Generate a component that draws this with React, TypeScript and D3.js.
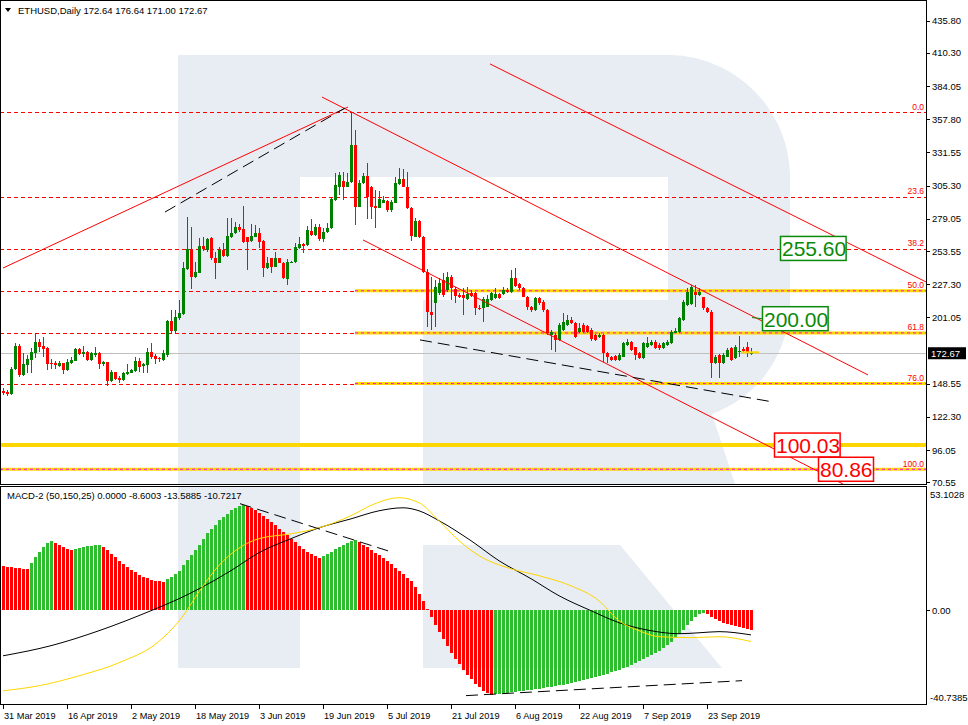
import React from "react";
import * as d3 from "d3";

const START = Date.UTC(2019, 2, 31);
const DAY = 86400000;

const openP = [
  142.8,142.3,140.4,160.0,178.7,155.5,163.4,167.3,172.9,181.3,
  178.7,176.8,165.2,164.7,162.9,165.0,159.4,164.7,166.8,176.0,
  172.1,173.7,167.3,171.6,173.1,164.2,165.5,150.7,157.6,153.4,
  151.5,156.3,157.3,158.6,166.6,162.6,163.1,173.7,170.5,169.2,
  167.3,171.3,198.2,190.0,200.2,203.7,239.0,255.1,233.2,236.4,
  257.5,254.3,263.6,248.3,244.3,254.3,249.6,264.4,267.5,272.8,
  270.7,264.4,261.7,264.9,267.5,261.5,239.8,247.7,241.1,247.7,
  244.3,231.4,244.3,244.6,255.6,259.1,258.3,269.4,266.2,272.8,
  262.8,268.8,271.5,293.9,304.5,309.2,304.5,308.4,337.4,288.6,
  307.1,312.9,303.9,289.2,287.8,291.8,293.1,286.0,291.8,306.3,
  310.5,304.5,287.3,264.9,277.5,264.9,237.3,205.0,212.2,220.1,
  230.7,222.8,233.3,223.3,218.8,218.8,215.4,220.6,220.1,208.8,
  208.2,209.6,214.8,216.2,219.3,219.3,222.8,221.4,232.0,227.2,
  224.1,217.5,209.6,206.9,216.2,213.5,206.9,187.1,187.1,183.2,
  191.1,195.1,199.0,196.9,189.8,195.1,194.3,191.1,187.1,185.3,
  187.1,172.6,170.0,170.5,167.4,170.0,179.2,181.9,177.4,173.2,
  168.7,177.4,179.2,181.9,179.2,176.6,179.2,180.5,189.0,189.8,
  199.0,210.9,211.7,221.4,218.8,217.0,208.2,205.6,164.7,171.3,
  164.7,170.0,176.6,168.7,173.7,175.8,177.4,172.64,
];
const highP = [
  144.9,143.6,162.1,180.5,179.7,172.6,171.3,176.6,187.9,184.0,
  185.3,177.9,167.9,166.8,166.3,165.2,167.9,169.5,176.8,176.6,
  178.4,174.5,173.9,177.4,173.7,166.8,166.0,159.4,158.1,154.7,
  158.1,163.9,160.2,169.5,168.7,164.7,176.6,180.5,171.8,170.0,
  175.3,199.0,206.8,206.8,214.8,245.1,280.2,272.5,245.1,263.6,
  264.4,264.1,264.4,253.0,257.0,259.6,279.4,279.4,276.8,274.9,
  289.2,265.0,274.6,274.1,272.0,262.2,249.1,248.3,253.0,248.3,
  245.1,246.9,245.9,259.6,264.4,259.6,273.6,278.6,274.6,274.6,
  271.5,275.4,296.0,315.0,316.3,316.3,315.0,363.3,349.3,309.7,
  315.0,322.9,305.0,301.8,301.0,297.1,293.9,293.9,312.4,319.0,
  318.2,316.3,288.1,279.4,278.1,265.4,239.1,233.3,230.7,232.0,
  236.0,237.3,234.6,225.4,220.1,224.1,225.4,222.8,221.4,210.9,
  217.5,218.8,221.4,224.1,220.1,225.4,224.1,238.6,239.9,228.0,
  225.4,218.0,210.1,217.0,217.0,214.8,207.5,191.1,188.5,196.4,
  204.3,203.0,201.7,197.7,196.4,196.4,195.1,192.4,187.9,188.5,
  187.9,174.0,170.5,171.3,173.2,181.9,183.7,182.7,177.9,174.0,
  181.9,185.8,183.2,183.2,180.5,181.9,183.2,191.1,192.4,201.7,
  214.8,224.1,226.7,226.7,224.1,217.5,209.6,206.9,171.3,172.1,
  172.6,176.6,177.4,179.2,186.4,177.4,181.9,176.64,
];
const lowP = [
  139.6,138.9,139.6,159.4,153.6,154.7,157.3,157.3,168.7,173.9,
  170.0,159.4,160.0,160.5,162.1,156.0,158.9,163.9,166.3,171.6,
  170.0,166.8,166.8,170.0,160.5,162.9,147.0,150.2,151.5,148.9,
  150.7,155.5,156.8,158.1,157.6,157.3,157.3,168.1,163.9,166.0,
  166.8,170.0,188.4,188.0,198.9,202.9,238.5,223.2,232.4,235.9,
  253.8,253.0,246.4,231.1,243.8,248.5,249.1,263.6,267.0,268.8,
  260.1,238.5,260.9,264.4,255.6,233.2,239.0,235.9,240.6,243.8,
  231.1,226.6,243.8,243.8,254.9,251.7,257.5,265.4,265.4,261.7,
  260.9,268.1,270.7,293.4,297.9,293.9,303.9,307.1,274.1,288.1,
  306.6,278.6,278.6,271.5,287.3,291.3,284.7,284.7,291.3,305.8,
  303.9,286.5,261.5,264.4,263.6,235.9,193.7,191.1,193.7,218.8,
  217.5,221.4,214.8,212.2,216.2,203.0,214.8,217.0,203.0,206.9,
  197.7,209.0,214.3,215.4,215.4,218.8,220.6,220.6,225.4,222.8,
  217.0,206.9,205.6,206.4,210.9,205.6,187.1,175.3,174.0,182.7,
  190.6,194.5,195.9,184.5,189.0,189.0,188.5,182.7,182.7,184.5,
  166.0,164.7,166.8,166.8,166.8,169.5,178.4,174.7,167.4,167.9,
  167.9,176.6,178.4,175.8,175.3,175.8,178.4,180.0,188.5,189.0,
  198.5,210.1,210.9,209.6,218.0,206.9,204.3,152.9,164.2,152.9,
  164.2,169.5,166.8,167.9,170.0,173.2,170.0,171.0,
];
const closeP = [
  141.0,140.4,160.0,178.4,155.5,164.2,168.1,173.7,181.3,177.9,
  176.3,164.2,163.9,163.1,165.2,159.4,166.0,167.3,176.3,172.1,
  173.9,167.3,172.6,172.9,164.2,166.0,150.7,158.1,152.3,151.5,
  157.3,157.8,159.4,166.6,162.1,164.2,173.7,170.0,168.1,167.9,
  172.6,198.2,190.0,201.6,204.7,240.3,255.1,233.2,236.7,257.5,
  254.9,263.0,247.7,244.3,254.3,249.6,265.4,268.1,272.8,270.2,
  260.9,260.9,265.4,267.5,260.9,239.8,244.3,241.1,248.3,244.3,
  231.9,245.1,244.8,256.4,259.1,257.8,270.2,266.2,272.8,262.8,
  268.8,272.0,294.4,305.8,313.7,304.5,308.4,337.4,288.6,307.1,
  312.9,296.5,288.6,287.8,294.4,293.9,286.0,292.6,307.1,310.5,
  304.5,287.3,265.4,277.5,264.4,237.2,205.0,203.0,225.4,228.0,
  218.8,233.3,224.1,218.0,217.5,216.2,219.3,218.0,208.2,207.5,
  215.4,215.4,220.1,219.3,216.2,222.8,221.4,232.0,225.9,224.1,
  217.5,209.6,206.9,216.2,212.2,206.9,188.5,189.8,183.2,195.1,
  197.7,199.0,196.4,185.8,192.4,189.8,189.8,183.7,183.2,187.1,
  172.6,170.0,167.4,167.4,171.3,180.5,181.9,175.3,171.3,168.7,
  180.5,180.5,181.9,176.6,176.6,180.5,181.9,189.8,190.6,200.3,
  213.5,221.4,225.4,218.8,221.4,208.2,205.6,164.7,170.0,164.7,
  171.3,175.3,167.4,177.4,174.2,174.7,172.6,172.67,
];

const macdHist = [
  19.2,18.9,18.6,18.4,18.2,18.0,17.9,
  20.5,23.0,25.5,27.5,29.0,30.0,
  29.3,28.5,27.6,26.8,26.0,
  26.5,27.0,27.5,27.8,28.0,28.2,28.3,
  27.5,26.0,24.5,23.0,21.5,20.0,18.7,17.5,16.5,15.5,14.5,13.8,13.2,
  12.8,12.5,12.3,
  13.5,14.5,15.8,17.0,19.5,22.0,24.0,26.0,28.5,31.0,33.5,35.5,37.0,39.0,40.5,42.0,43.5,44.5,45.3,45.8,
  45.2,44.5,43.5,42.2,41.0,39.5,38.2,37.0,35.5,34.0,32.5,31.0,29.5,28.0,26.5,25.5,24.5,23.5,22.8,
  23.5,24.5,25.5,26.5,27.5,28.5,29.3,30.0,30.5,
  29.5,28.5,27.5,26.2,25.0,23.8,22.5,21.3,20.0,18.5,17.2,15.8,14.2,12.5,10.0,7.0,4.0,
  0.5,-3.0,-6.5,-9.5,-12.5,-15.5,-18.5,-21.0,-23.5,-26.0,-28.0,-30.0,-32.0,-33.5,-35.0,-36.0,-36.8,
  -36.5,-36.3,-36.1,-35.9,-35.7,-35.4,-35.2,-35.0,-34.8,-34.6,-34.4,-34.1,-33.8,-33.5,-33.2,-32.9,-32.6,-32.3,-32.0,
  -31.6,-31.2,-30.8,-30.4,-30.0,-29.5,-29.0,-28.5,-28.0,-27.5,-27.0,-26.4,-25.8,-25.2,-24.5,-23.8,-23.0,-22.2,-21.4,-20.5,
  -19.5,-18.5,-17.5,-16.3,-15.0,-13.6,-12.0,-10.3,-8.5,-6.5,-4.5,-3.0,-1.8,-1.0,
  -1.5,-3.0,-4.0,-4.8,-5.5,-6.0,-6.5,-7.0,-7.4,-7.8,-8.2,-8.6003,
];

// [day index, value]
const macdMain = [
  [0,-19.8],[12,-15.4],[24,-8.9],[37,-0.2],[44,5.0],[49,9.3],[57,17.2],[64,25.0],[72,31.1],[79,35.8],
  [87,39.7],[94,43.2],[100,44.5],[104,43.2],[109,38.9],[117,30.2],[124,21.5],[132,13.7],[139,6.3],
  [147,-0.2],[154,-5.4],[162,-8.9],[169,-10.2],[174,-9.8],[179,-9.3],[187,-10.7217],
];
const macdSignal = [
  [0,-35.0],[9,-32.8],[19,-28.5],[29,-22.8],[39,-13.5],[45,-2.5],[49,8.0],[54,19.5],[59,27.0],[64,31.1],
  [72,33.2],[79,35.8],[87,41.1],[93,46.3],[99,48.9],[104,46.7],[109,38.9],[114,30.2],[119,23.7],[127,18.0],
  [134,15.0],[142,10.6],[149,4.1],[154,-4.6],[159,-8.9],[164,-11.5],[172,-11.9],[179,-11.5],[187,-13.5885],
];

const priceTicks = [435.8, 410.3, 384.05, 357.8, 331.55, 305.3, 279.05, 253.55, 227.3, 201.05, 148.55, 122.3, 96.05, 70.55];
const dateTickIdx = [0, 16, 32, 48, 64, 80, 96, 112, 128, 144, 160, 176];
const fibHigh = 363.3;
const fibLow = 80.86;
const fibLevels = [0, 23.6, 38.2, 50, 61.8, 76, 100];
const yellowFibLevels = [50, 61.8, 76];
const supportLevels = [100.03, 80.86];
const lastPrice = 172.67;

// trend lines: [[dayIndex, price], [dayIndex, price]]
const redTrends = [
  [[0, 240.1], [86.25, 367.5]],
  [[79.75, 375.4], [216.25, 155.5]],
  [[90, 262.3], [210, 69.2]],
  [[121.75, 401.6], [230.75, 229.1]],
];
const blackTrends = [
  [[40.5, 284.4], [85.5, 366.7]],
  [[104.25, 183.2], [192.5, 134.1]],
];
const macdTrends = [
  [[59.25, 46.3], [96.25, 25.8]],
  [[115.75, -37.1], [184.75, -30.6]],
];
const priceLabels = [
  { price: 255.6, at: 194.25, color: "#0a8a0a" },
  { price: 200.0, at: 189.75, color: "#0a8a0a" },
  { price: 100.03, at: 192.75, color: "#ff0000" },
  { price: 80.86, at: 203.75, color: "#ff0000" },
];

const FONT = "'Liberation Sans', Arial, sans-serif";

export default function App() {
  const W = 968, H = 725;
  const dayDate = (i: number) => new Date(START + i * DAY);
  const x = d3.scaleUtc().domain([dayDate(0), dayDate(230.75)]).range([3, 926]);
  const xi = (i: number) => x(dayDate(i));
  const yP = d3.scaleLinear().domain([70.55, 435.8]).range([482.3, 20.7]);
  const yM = d3.scaleLinear().domain([-40.7385, 53.1028]).range([704, 488]);
  const fmt = d3.utcFormat("%-d %b %Y");
  const fibPrice = (lv: number) => fibHigh - (fibHigh - fibLow) * lv / 100;
  const yellowStart = xi(88);

  const lineP = d3.line<number[]>().x(d => xi(d[0])).y(d => yP(d[1]));
  const lineM = d3.line<number[]>().x(d => xi(d[0])).y(d => yM(d[1]));
  const curveM = d3.line<number[]>().x(d => xi(d[0])).y(d => yM(d[1])).curve(d3.curveMonotoneX);

  const y0 = yM(0);

  return (
    <svg width={W} height={H} style={{ position: "fixed", left: 0, top: 0, background: "#fff" }} fontFamily={FONT}>
      <defs>
        <clipPath id="mainClip"><rect x={1} y={1} width={925} height={483} /></clipPath>
        <clipPath id="macdClip"><rect x={1} y={487} width={925} height={217} /></clipPath>
      </defs>
      <rect x={0} y={0} width={W} height={H} fill="#fff" />
      {/* watermark */}
      <g fill="#e8ecf3" clipPath="url(#mainClip)">
        <path fillRule="evenodd" d="M178,55 H668 C735,55 790,110 790,177 V300 C790,352 760,396 712,414 L735,484 H423 V300 H300 V484 H178 Z M300,177 H668 V300 H300 Z" />
      </g>
      <g fill="#e8ecf3" clipPath="url(#macdClip)">
        <path d="M178,487 H300 V668 H178 Z M423,545 H620 L722,668 H423 Z" />
      </g>

      <g clipPath="url(#mainClip)">
        {/* red fib dashed lines */}
        <g shapeRendering="crispEdges">
          {fibLevels.map(lv => (
            <line key={"f" + lv} x1={0} x2={926} y1={Math.round(yP(fibPrice(lv))) + 0.5} y2={Math.round(yP(fibPrice(lv))) + 0.5}
              stroke="#ff0000" strokeDasharray="4,3" />
          ))}
        </g>
        {/* yellow levels */}
        {yellowFibLevels.map(lv => (
          <line key={"y" + lv} x1={yellowStart} x2={926} y1={yP(fibPrice(lv))} y2={yP(fibPrice(lv))} stroke="#ffd700" strokeWidth={3} />
        ))}
        <line x1={0} x2={926} y1={yP(supportLevels[0])} y2={yP(supportLevels[0])} stroke="#ffd700" strokeWidth={4} />
        <line x1={0} x2={926} y1={yP(supportLevels[1])} y2={yP(supportLevels[1])} stroke="#ffd700" strokeWidth={3} />
        {yellowFibLevels.map(lv => (
          <line key={"m" + lv} x1={yellowStart} x2={926} y1={yP(fibPrice(lv))} y2={yP(fibPrice(lv))} stroke="#ff00ff" strokeDasharray="3,3" />
        ))}
        <line x1={0} x2={926} y1={yP(fibLow)} y2={yP(fibLow)} stroke="#ff00ff" strokeDasharray="3,3" />
        {/* current price line */}
        <line x1={0} x2={926} y1={Math.round(yP(lastPrice)) + 0.5} y2={Math.round(yP(lastPrice)) + 0.5} stroke="#c0c0c0" />
        {/* candles */}
        <g shapeRendering="crispEdges">
          {closeP.map((c, i) => {
            const o = openP[i];
            const up = c >= o;
            const col = up ? "#008000" : "#ff0000";
            const cx = Math.round(xi(i));
            const top = yP(Math.max(o, c));
            const bot = yP(Math.min(o, c));
            return (
              <g key={i}>
                <line x1={cx + 0.5} x2={cx + 0.5} y1={yP(highP[i])} y2={yP(lowP[i])} stroke={col} />
                <rect x={cx - 1} y={top} width={3} height={Math.max(1, bot - top)} fill={col} />
              </g>
            );
          })}
        </g>
        {/* trend lines */}
        {redTrends.map((t, k) => (
          <path key={"r" + k} d={lineP(t) || ""} stroke="#ff0000" fill="none" strokeWidth={1} />
        ))}
        {blackTrends.map((t, k) => (
          <path key={"b" + k} d={lineP(t) || ""} stroke="#000" fill="none" strokeWidth={1} strokeDasharray="12,6" />
        ))}
        {/* last bid marker */}
        <line x1={xi(184.5)} x2={xi(189)} y1={yP(173.4)} y2={yP(173.4)} stroke="#ffd700" strokeWidth={2} />
        {/* connector of 200 label */}
        <line x1={xi(187.25)} x2={xi(189.75)} y1={yP(200.9)} y2={yP(200)} stroke="#0a8a0a" />
      </g>

      {/* fib labels */}
      {fibLevels.map(lv => (
        <text key={"fl" + lv} x={924} y={yP(fibPrice(lv)) - 2.5} fontSize={8.5} fill="#ff0000" textAnchor="end">{lv.toFixed(1)}</text>
      ))}

      {/* price labels */}
      {priceLabels.map((l, k) => {
        const txt = l.price.toFixed(2);
        const w = txt.length * 10.6 + 2;
        const x0 = xi(l.at);
        const yc = yP(l.price);
        return (
          <g key={"pl" + k}>
            <rect x={x0 + 0.5} y={yc - 12} width={w} height={24} fill="#fff" stroke={l.color} strokeWidth={1.5} />
            <text x={x0 + 2} y={yc + 8} fontSize={21} fill={l.color}>{txt}</text>
          </g>
        );
      })}

      {/* header */}
      <path d="M5,8 H11 L8,12 Z" fill="#000" />
      <text x={18} y={14} fontSize={9.5} fill="#000">ETHUSD,Daily  172.64 176.64 171.00 172.67</text>

      {/* MACD panel */}
      <g clipPath="url(#macdClip)">
        <g shapeRendering="crispEdges">
          {macdHist.map((v, i) => {
            const prev = i > 0 ? macdHist[i - 1] : v + 1;
            const col = v >= prev ? "#2ebd2e" : "#ff0000";
            const cx = Math.round(xi(i));
            const a = yM(v);
            return <rect key={"h" + i} x={cx - 1} y={Math.min(a, y0)} width={3} height={Math.max(1, Math.abs(a - y0))} fill={col} />;
          })}
        </g>
        <path d={curveM(macdMain) || ""} stroke="#000" fill="none" strokeWidth={1} />
        <path d={curveM(macdSignal) || ""} stroke="#ffd700" fill="none" strokeWidth={1} />
        {macdTrends.map((t, k) => (
          <path key={"mt" + k} d={lineM(t) || ""} stroke="#000" fill="none" strokeDasharray="12,6" />
        ))}
      </g>
      <text x={7} y={499} fontSize={9.5} fill="#000">MACD-2 (50,150,25) 0.0000 -8.6003 -13.5885 -10.7217</text>

      {/* panel borders */}
      <g fill="none" stroke="#000" shapeRendering="crispEdges">
        <rect x={0.5} y={0.5} width={926} height={484} />
        <rect x={0.5} y={486.5} width={926} height={218} />
      </g>

      {/* price axis */}
      <g fontSize={9.5} fill="#000">
        {priceTicks.map(t => (
          <g key={"pt" + t}>
            <line x1={926} x2={930} y1={Math.round(yP(t)) + 0.5} y2={Math.round(yP(t)) + 0.5} stroke="#000" />
            <text x={932} y={yP(t) + 3.5}>{t.toFixed(2)}</text>
          </g>
        ))}
      </g>
      <rect x={928} y={yP(lastPrice) - 6} width={38} height={12} fill="#000" />
      <text x={931} y={yP(lastPrice) + 3.5} fontSize={9.5} fill="#fff">{lastPrice.toFixed(2)}</text>

      {/* macd axis */}
      <g fontSize={9.5} fill="#000">
        <text x={930} y={yM(53.1028) + 10}>53.1028</text>
        <line x1={926} x2={930} y1={Math.round(y0) + 0.5} y2={Math.round(y0) + 0.5} stroke="#000" />
        <text x={932} y={y0 + 3.5}>0.00</text>
        <text x={930} y={yM(-40.7385) - 3}>-40.7385</text>
      </g>

      {/* time axis */}
      <g fontSize={9.2} fill="#000">
        {dateTickIdx.map(i => {
          const px = Math.round(xi(i)) + 0.5;
          return (
            <g key={"dt" + i}>
              <line x1={px} x2={px} y1={704} y2={709} stroke="#000" />
              <text x={px + 0.5} y={719}>{fmt(dayDate(i))}</text>
            </g>
          );
        })}
      </g>
    </svg>
  );
}
